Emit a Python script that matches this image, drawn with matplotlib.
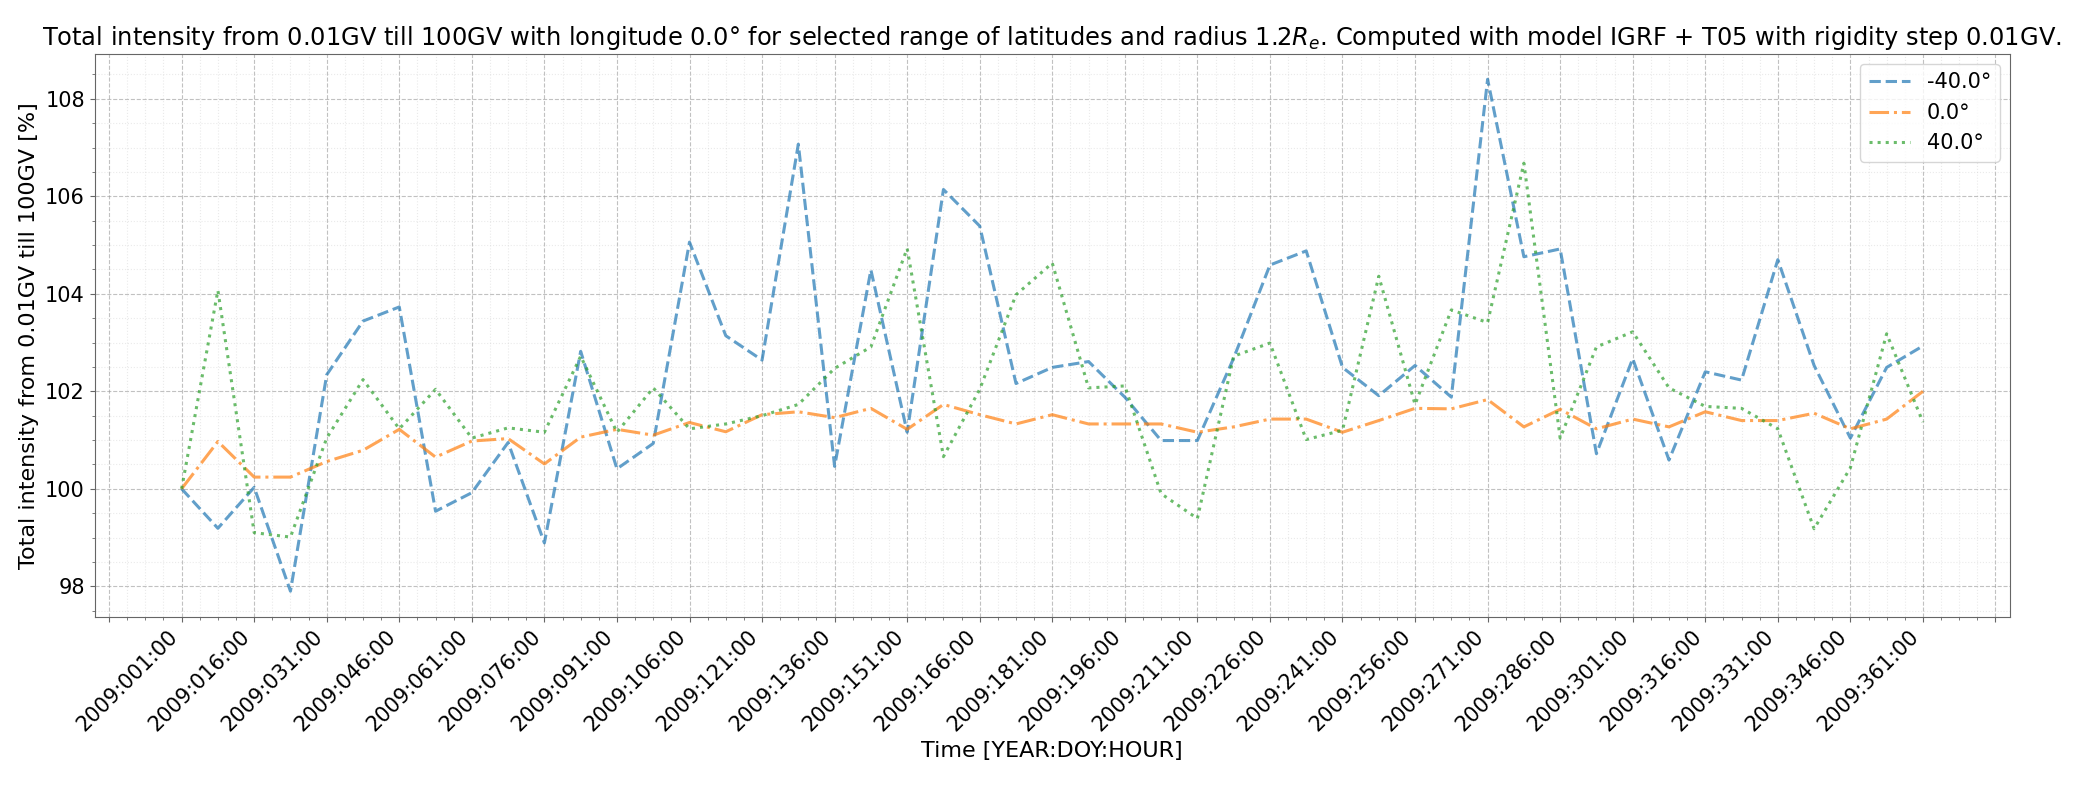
import matplotlib
matplotlib.use("Agg")
import matplotlib.pyplot as plt
from matplotlib.ticker import MultipleLocator, AutoMinorLocator, FuncFormatter

# day of year of every computed point (step 180 h = 7.5 days)
days = [1 + 7.5 * i for i in range(49)]

lat_minus40 = [100.0, 99.19, 100.03, 97.90, 102.34, 103.44, 103.73, 99.54, 99.92, 100.95,
               98.89, 102.82, 100.41, 100.93, 105.06, 103.14, 102.64, 107.07, 100.46, 104.49,
               101.16, 106.14, 105.39, 102.16, 102.49, 102.61, 101.88, 100.99, 100.99, 102.68,
               104.59, 104.88, 102.49, 101.91, 102.53, 101.88, 108.40, 104.76, 104.92, 100.72,
               102.67, 100.59, 102.40, 102.23, 104.70, 102.53, 101.04, 102.49, 102.93]
lat_0 = [100.0, 100.97, 100.24, 100.24, 100.56, 100.79, 101.22, 100.65, 100.98, 101.03,
         100.51, 101.06, 101.22, 101.10, 101.36, 101.17, 101.52, 101.58, 101.46, 101.65,
         101.22, 101.73, 101.52, 101.33, 101.52, 101.33, 101.33, 101.33, 101.16, 101.27,
         101.43, 101.43, 101.16, 101.40, 101.65, 101.64, 101.83, 101.27, 101.63, 101.23,
         101.43, 101.27, 101.58, 101.40, 101.40, 101.55, 101.23, 101.43, 102.00]
lat_40 = [100.0, 104.07, 99.10, 99.01, 101.04, 102.24, 101.23, 102.04, 101.04, 101.25,
          101.16, 102.72, 101.16, 102.07, 101.23, 101.33, 101.50, 101.73, 102.47, 102.91,
          104.93, 100.66, 102.04, 103.98, 104.63, 102.07, 102.11, 99.90, 99.39, 102.72,
          102.99, 101.01, 101.20, 104.36, 101.73, 103.67, 103.41, 106.68, 101.04, 102.91,
          103.22, 102.07, 101.69, 101.65, 101.23, 99.18, 100.43, 103.18, 101.37]

fig, ax = plt.subplots(figsize=(20.92, 7.85), dpi=100)
fig.subplots_adjust(left=0.0452, right=0.9608, top=0.9316, bottom=0.2143)

ax.plot(days, lat_minus40, '--', color='tab:blue', lw=2.2, alpha=0.7, label='-40.0°')
ax.plot(days, lat_0, '-.', color='tab:orange', lw=2.2, alpha=0.7, label='0.0°')
ax.plot(days, lat_40, ':', color='tab:green', lw=2.2, alpha=0.7, label='40.0°')

def doy_label(v, pos):
    if 1 <= v <= 361:
        return f"2009:{int(round(v)):03d}:00"
    return ""

ax.xaxis.set_major_locator(MultipleLocator(15, offset=1))
ax.xaxis.set_major_formatter(FuncFormatter(doy_label))
ax.xaxis.set_minor_locator(AutoMinorLocator())
ax.yaxis.set_minor_locator(AutoMinorLocator())

ax.grid(which='major', linestyle='--', color='0.6', alpha=0.6)
ax.grid(which='minor', linestyle=':', color='0.8', alpha=0.4)

for s in ax.spines.values():
    s.set_edgecolor('0.4')
ax.tick_params(which='both', color='0.4')
ax.tick_params(labelsize=15)
plt.setp(ax.get_xticklabels(), rotation=45, ha='right')

ax.set_xlabel('Time [YEAR:DOY:HOUR]', fontsize=16)
ax.set_ylabel('Total intensity from 0.01GV till 100GV [%]', fontsize=16)
ax.set_title('Total intensity from 0.01GV till 100GV with longitude 0.0° for selected range of '
             'latitudes and radius 1.2$R_e$. Computed with model IGRF + T05 with rigidity step 0.01GV.',
             fontsize=17.4)
ax.legend(fontsize=15, loc='upper right')

fig.savefig('out.png', dpi=100)
